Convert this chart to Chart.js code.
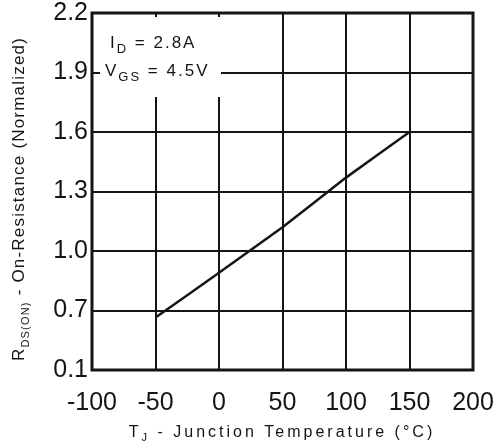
<!DOCTYPE html>
<html><head><meta charset="utf-8">
<script src="https://cdn.jsdelivr.net/npm/chart.js@4"></script>
<style>html,body{margin:0;padding:0;background:#fff}#wrap{width:496px;height:443px}</style>
</head><body><div id="wrap"><canvas id="c" width="496" height="443"></canvas></div>
<script>
const temperatures = [-50, -25, 0, 25, 50, 75, 100, 125, 150];
const resistance = [0.665, 0.777, 0.89, 1.005, 1.12, 1.245, 1.37, 1.485, 1.6];
const xTicks = [-100, -50, 0, 50, 100, 150, 200];
const yTickValues = [0.4, 0.7, 1.0, 1.3, 1.6, 1.9, 2.2];
const yTickLabels = ['0.1', '0.7', '1.0', '1.3', '1.6', '1.9', '2.2'];
const annotationLines = [
  [{t: 'I'}, {t: 'D', sub: true}, {t: ' = 2.8A'}],
  [{t: 'V'}, {t: 'GS', sub: true}, {t: ' = 4.5V'}]
];
const xTitle = [{t: 'T'}, {t: 'J', sub: true}, {t: ' - Junction Temperature (°C)'}];
const yTitle = [{t: 'R'}, {t: 'DS(ON)', sub: true}, {t: ' - On-Resistance (Normalized)'}];

const FONT = "'Liberation Sans', Arial, sans-serif";
const INK = '#151515';

function drawRich(ctx, parts, x, y, size, subSize, spacing, align) {
  ctx.save();
  ctx.textBaseline = 'alphabetic';
  ctx.textAlign = 'left';
  if ('letterSpacing' in ctx) ctx.letterSpacing = spacing + 'px';
  let total = 0;
  const widths = parts.map(p => {
    ctx.font = (p.sub ? subSize : size) + 'px ' + FONT;
    const w = ctx.measureText(p.t).width;
    total += w;
    return w;
  });
  let cx = align === 'center' ? x - total / 2 : x;
  parts.forEach((p, i) => {
    ctx.font = (p.sub ? subSize : size) + 'px ' + FONT;
    ctx.fillText(p.t, cx, y + (p.sub ? size * 0.28 : 0));
    cx += widths[i];
  });
  ctx.restore();
}

const decor = {
  id: 'decor',
  beforeDatasetsDraw(chart) {
    const ctx = chart.ctx;
    ctx.save();
    ctx.fillStyle = '#fff';
    ctx.fillRect(100, 17, 121, 80);
    ctx.restore();
  },
  afterDatasetsDraw(chart) {
    const ctx = chart.ctx;
    ctx.fillStyle = INK;
    drawRich(ctx, annotationLines[0], 110, 48, 17, 13, 2, 'left');
    drawRich(ctx, annotationLines[1], 105, 76, 17, 13, 2, 'left');
  },
  afterDraw(chart) {
    const ctx = chart.ctx;
    const a = chart.chartArea;
    ctx.save();
    ctx.strokeStyle = INK;
    ctx.lineWidth = 3;
    ctx.strokeRect(a.left, a.top, a.right - a.left, a.bottom - a.top);
    ctx.fillStyle = INK;
    drawRich(ctx, xTitle, 282, 437, 16, 11, 3, 'center');
    ctx.translate(24, 199);
    ctx.rotate(-Math.PI / 2);
    drawRich(ctx, yTitle, 0, 0, 17, 11, 1.2, 'center');
    ctx.restore();
  }
};

new Chart(document.getElementById('c'), {
  type: 'line',
  data: {
    datasets: [{
      data: temperatures.map((t, i) => ({x: t, y: resistance[i]})),
      borderColor: INK,
      borderWidth: 2.5,
      pointRadius: 0,
      tension: 0,
      fill: false
    }]
  },
  options: {
    responsive: false,
    animation: false,
    devicePixelRatio: 1,
    layout: {padding: {left: 0, top: 13, right: 23, bottom: 0}},
    plugins: {legend: {display: false}, tooltip: {enabled: false}, title: {display: false}},
    scales: {
      x: {
        type: 'linear',
        min: -100, max: 200,
        afterBuildTicks: s => { s.ticks = xTicks.map(v => ({value: v})); },
        afterFit: s => { s.height = 73; s.paddingLeft = 0; s.paddingRight = 0; },
        ticks: {font: {family: FONT, size: 25}, color: INK, padding: 18, maxRotation: 0, autoSkip: false},
        grid: {color: INK, lineWidth: 2, drawTicks: false},
        border: {display: false}
      },
      y: {
        type: 'linear',
        min: 0.4, max: 2.2,
        afterBuildTicks: s => { s.ticks = yTickValues.map(v => ({value: v})); },
        afterFit: s => { s.width = 92; s.paddingTop = 0; s.paddingBottom = 0; },
        ticks: {
          font: {family: FONT, size: 25}, color: INK, padding: 4, autoSkip: false,
          callback: (v, i) => yTickLabels[i]
        },
        grid: {color: INK, lineWidth: 2, drawTicks: false},
        border: {display: false}
      }
    }
  },
  plugins: [decor]
});
</script>
</body></html>
